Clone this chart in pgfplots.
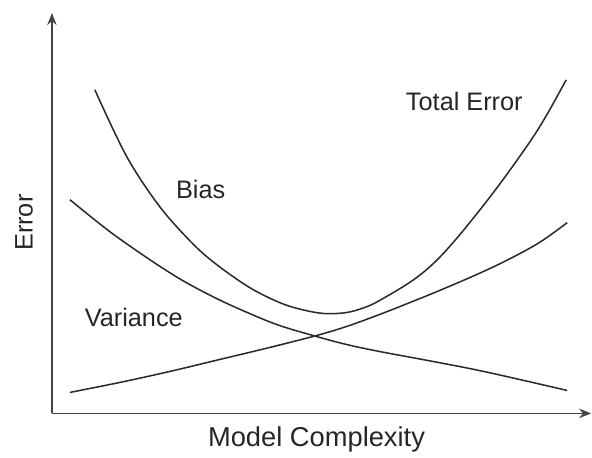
\documentclass[border=0pt]{standalone}
\usepackage{pgfplots}
\pgfplotsset{compat=1.18}
\usetikzlibrary{arrows.meta}
\usepackage{fontspec}
\setmainfont{Liberation Sans}
\definecolor{curve}{HTML}{2B2B2B}
\definecolor{axisgray}{HTML}{444444}
\definecolor{txt}{HTML}{262626}

\begin{document}
\begin{tikzpicture}[x=1pt,y=1pt]
\begin{axis}[
  scale only axis,
  width=405pt, height=300.75pt,
  xmin=52, xmax=592, ymin=44, ymax=445,
  axis x line=bottom, axis y line=left,
  axis line style={axisgray, line width=1.3pt},
  every outer x axis line/.append style={-{Stealth[length=9pt,width=7pt]}},
  every outer y axis line/.append style={-{Stealth[length=9pt,width=7pt]}},
  xtick=\empty, ytick=\empty,
  clip=false,
]
% page frame
\path (axis cs:0,0) rectangle (axis cs:592,458);

% U-shaped curve
\addplot[curve, line width=1.15pt, smooth, tension=0.55] coordinates {
 (95,368) (127,301) (160,251) (193,214) (217,193) (250,170) (280,155)
 (302,148) (325,144) (347,145) (365,150) (380,157) (413,177) (437,197) (463,226)
 (497,269) (530,315) (547,342) (567,378)};
% decreasing curve
\addplot[curve, line width=1.15pt, smooth, tension=0.55] coordinates {
 (70,258) (110,226) (150,198) (183,177) (217,159) (250,144) (280,132)
 (317,121) (347,113) (380,106) (423,98) (470,89) (507,81) (568,67)};
% increasing curve
\addplot[curve, line width=1.15pt, smooth, tension=0.55] coordinates {
 (70,65) (120,75) (170,86) (220,98) (270,110) (317,122) (347,131)
 (380,143) (413,156) (440,167) (475,182) (507,197) (540,215) (568,235)};

\node[txt, font=\fontsize{19}{22}\selectfont] at (axis cs:465,356) {Total Error};
\node[txt, font=\fontsize{19}{22}\selectfont] at (axis cs:201,268) {Bias};
\node[txt, font=\fontsize{19}{22}\selectfont] at (axis cs:134,140) {Variance};
\node[txt, font=\fontsize{19}{22}\selectfont, rotate=90] at (axis cs:24,235) {Error};
\node[txt, font=\fontsize{20.5}{24}\selectfont] at (axis cs:317,18) {Model Complexity};
\end{axis}
\end{tikzpicture}
\end{document}
